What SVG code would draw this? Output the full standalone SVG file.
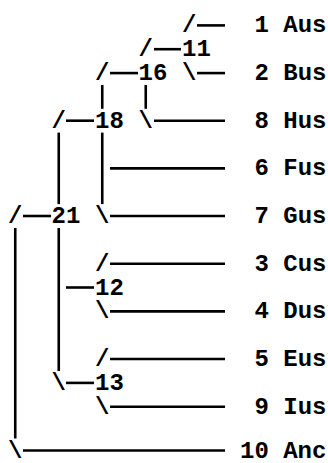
<svg xmlns="http://www.w3.org/2000/svg" width="328" height="463" viewBox="0 0 328 463">
  <style>
    .t { font-family: "Courier New", "Liberation Mono", monospace; font-weight: bold; font-size: 24px; fill: #000; }
    .s { text-anchor: middle; }
    .ln { stroke: #000; stroke-width: 2.6; fill: none; }
  </style>
  <rect width="328" height="463" fill="#fff"/>

  <!-- tree branches: horizontal runs, vertical runs and the slash corners -->
  <g id="connectors">
    <!-- horizontal runs -->
    <line class="ln" x1="197" y1="25.4" x2="225" y2="25.4"/>
    <line class="ln" x1="154" y1="49.2" x2="181" y2="49.2"/>
    <line class="ln" x1="110" y1="73.1" x2="138" y2="73.1"/>
    <line class="ln" x1="197" y1="73.1" x2="225" y2="73.1"/>
    <line class="ln" x1="66" y1="120.7" x2="94" y2="120.7"/>
    <line class="ln" x1="154" y1="120.7" x2="225" y2="120.7"/>
    <line class="ln" x1="110" y1="168.4" x2="225" y2="168.4"/>
    <line class="ln" x1="23" y1="216" x2="51" y2="216"/>
    <line class="ln" x1="110" y1="216" x2="225" y2="216"/>
    <line class="ln" x1="110" y1="263.7" x2="225" y2="263.7"/>
    <line class="ln" x1="66" y1="287.5" x2="94" y2="287.5"/>
    <line class="ln" x1="110" y1="311.4" x2="225" y2="311.4"/>
    <line class="ln" x1="110" y1="359" x2="225" y2="359"/>
    <line class="ln" x1="66" y1="382.9" x2="94" y2="382.9"/>
    <line class="ln" x1="110" y1="406.7" x2="225" y2="406.7"/>
    <line class="ln" x1="23" y1="450.5" x2="225" y2="450.5"/>

    <!-- vertical runs -->
    <line class="ln" x1="102.25" y1="85" x2="102.25" y2="108.8"/>
    <line class="ln" x1="145.75" y1="85" x2="145.75" y2="108.8"/>
    <line class="ln" x1="58.75" y1="132.6" x2="58.75" y2="204.1"/>
    <line class="ln" x1="102.25" y1="132.6" x2="102.25" y2="204.1"/>
    <line class="ln" x1="15.25" y1="228" x2="15.25" y2="438.5"/>
    <line class="ln" x1="58.75" y1="228" x2="58.75" y2="371"/>

    <!-- slash corners -->
    <text class="t s" x="189.25" y="32.4">/</text>
    <text class="t s" x="145.75" y="56.2">/</text>
    <text class="t s" x="102.25" y="80.1">/</text>
    <text class="t s" x="189.25" y="80.1">\</text>
    <text class="t s" x="58.75" y="127.7">/</text>
    <text class="t s" x="145.75" y="127.7">\</text>
    <text class="t s" x="15.25" y="223">/</text>
    <text class="t s" x="102.25" y="223">\</text>
    <text class="t s" x="102.25" y="270.7">/</text>
    <text class="t s" x="102.25" y="318.4">\</text>
    <text class="t s" x="102.25" y="366">/</text>
    <text class="t s" x="58.75" y="389.9">\</text>
    <text class="t s" x="102.25" y="413.7">\</text>
    <text class="t s" x="15.25" y="457.5">\</text>
  </g>

  <!-- internal nodes -->
  <g id="n11"><text class="t" x="182" y="56.2">11</text></g>
  <g id="n16"><text class="t" x="138.5" y="80.1">16</text></g>
  <g id="n18"><text class="t" x="95" y="127.7">18</text></g>
  <g id="n21"><text class="t" x="51.5" y="223">21</text></g>
  <g id="n12"><text class="t" x="95" y="294.5">12</text></g>
  <g id="n13"><text class="t" x="95" y="389.9">13</text></g>

  <!-- leaves -->
  <g id="leaf1"><text class="t" x="254.5" y="32.4">1 Aus</text></g>
  <g id="leaf2"><text class="t" x="254.5" y="80.1">2 Bus</text></g>
  <g id="leaf8"><text class="t" x="254.5" y="127.7">8 Hus</text></g>
  <g id="leaf6"><text class="t" x="254.5" y="175.4">6 Fus</text></g>
  <g id="leaf7"><text class="t" x="254.5" y="223">7 Gus</text></g>
  <g id="leaf3"><text class="t" x="254.5" y="270.7">3 Cus</text></g>
  <g id="leaf4"><text class="t" x="254.5" y="318.4">4 Dus</text></g>
  <g id="leaf5"><text class="t" x="254.5" y="366">5 Eus</text></g>
  <g id="leaf9"><text class="t" x="254.5" y="413.7">9 Ius</text></g>
  <g id="leaf10"><text class="t" x="240" y="457.5">10 Anc</text></g>
</svg>
